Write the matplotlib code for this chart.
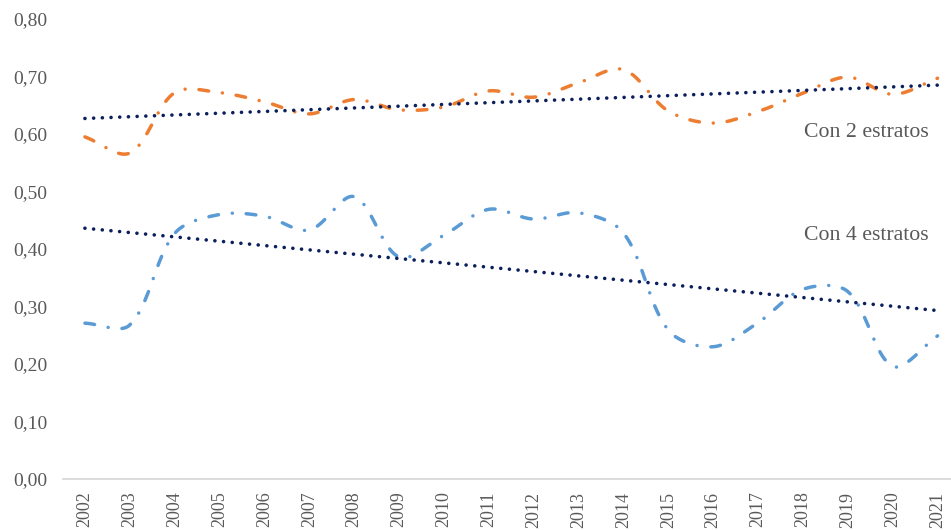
import numpy as np
import matplotlib
matplotlib.use("Agg")
import matplotlib.pyplot as plt

years = [str(y) for y in range(2002, 2022)]
con2 = [0.595, 0.567, 0.672, 0.672, 0.656, 0.635, 0.660, 0.642, 0.647, 0.675,
        0.664, 0.689, 0.712, 0.640, 0.619, 0.639, 0.671, 0.699, 0.669, 0.697]
con4 = [0.271, 0.268, 0.427, 0.460, 0.457, 0.433, 0.491, 0.386, 0.424, 0.469,
        0.452, 0.463, 0.428, 0.259, 0.230, 0.272, 0.330, 0.326, 0.196, 0.249]
yticks = [0.0, 0.1, 0.2, 0.3, 0.4, 0.5, 0.6, 0.7, 0.8]
labels = ["Con 2 estratos", "Con 4 estratos"]

ORANGE = "#ED7D31"
BLUE = "#5B9BD5"
NAVY = "#0A1F5C"
GRAY = "#595959"
SERIF = ["Liberation Serif", "DejaVu Serif"]

# pixel scales used only for the curve smoothing geometry
SX, SY = 44.9, 575.0


def smooth(y, n=24):
    """Bezier smoothing with chord-weighted control points (Excel-like)."""
    y = np.asarray(y, float)
    x = np.arange(len(y), dtype=float)
    P = np.column_stack([x * SX, y * SY])
    N = len(P)
    cout = np.zeros_like(P)
    cin = np.zeros_like(P)
    for i in range(N):
        a = P[max(i - 1, 0)]
        b = P[min(i + 1, N - 1)]
        d = b - a
        l_prev = np.linalg.norm(P[i] - a)
        l_next = np.linalg.norm(b - P[i])
        tot = l_prev + l_next
        if tot == 0:
            cout[i] = P[i]
            cin[i] = P[i]
            continue
        cout[i] = P[i] + d * (l_next / tot) / 3.0
        cin[i] = P[i] - d * (l_prev / tot) / 3.0
    xs, ys = [], []
    for i in range(N - 1):
        p1, c1, c2, p2 = P[i], cout[i], cin[i + 1], P[i + 1]
        t = np.linspace(0, 1, n, endpoint=(i == N - 2))[:, None]
        pts = ((1 - t) ** 3) * p1 + 3 * ((1 - t) ** 2) * t * c1 \
            + 3 * (1 - t) * t ** 2 * c2 + t ** 3 * p2
        xs.append(pts[:, 0] / SX)
        ys.append(pts[:, 1] / SY)
    return np.concatenate(xs), np.concatenate(ys)


fig = plt.figure(figsize=(9.51, 5.30), dpi=100)
ax = fig.add_axes([62.5 / 951, 51 / 530, (960 - 62.5) / 951, 460 / 530])

x = np.arange(len(years))
lw = 2.5
dashdot = (0, (2.8, 4.0, 0.01, 4.0))
for vals, col in [(con2, ORANGE), (con4, BLUE)]:
    sx, sy = smooth(vals)
    ax.plot(sx, sy, color=col, lw=lw, linestyle=dashdot,
            dash_capstyle="round", solid_capstyle="round")

for vals in [con2, con4]:
    m, b = np.polyfit(x, vals, 1)
    ax.plot(x, m * x + b, color=NAVY, lw=2.6, linestyle=(0, (0.01, 2.4)),
            dash_capstyle="round")

ax.text(16.03, 0.602, labels[0], fontsize=15.7, color=GRAY, family=SERIF,
        va="center", ha="left")
ax.text(16.03, 0.423, labels[1], fontsize=15.7, color=GRAY, family=SERIF,
        va="center", ha="left")

ax.set_xlim(-0.5, len(years) - 0.5)
ax.set_ylim(0, 0.8)
ax.set_xticks(x)
ax.set_xticklabels(years, rotation=90, fontsize=13, color=GRAY, family=SERIF)
ax.set_yticks(yticks)
ax.set_yticklabels([f"{v:.2f}".replace(".", ",") for v in yticks],
                   fontsize=14, color=GRAY, family=SERIF)
ax.tick_params(axis="both", length=0)
ax.tick_params(axis="y", pad=11)
ax.tick_params(axis="x", pad=9)
for s in ["top", "right", "left"]:
    ax.spines[s].set_visible(False)
ax.spines["bottom"].set_color("#D9D9D9")
ax.spines["bottom"].set_linewidth(1.3)
ax.patch.set_alpha(0)

fig.savefig("out.png", dpi=100)
